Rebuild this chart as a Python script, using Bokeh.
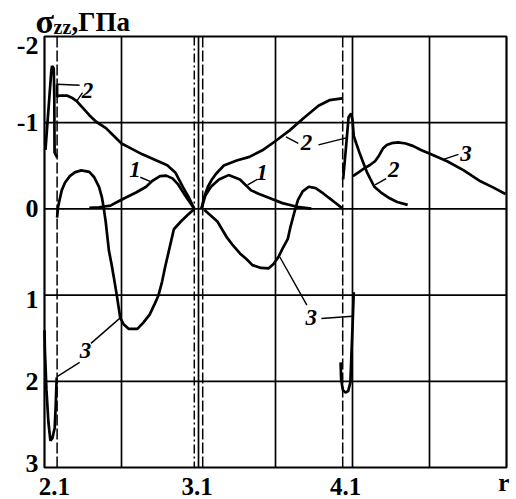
from bokeh.plotting import figure
from bokeh.models import Range1d, Label
from bokeh.embed import file_html
from bokeh.resources import INLINE

FONT = "Liberation Serif"

# ---- axes / grid -------------------------------------------------------
r_min, r_max = 2.0, 5.3
s_top, s_bottom = -2.0, 3.0
grid_r = [2.55, 3.1, 3.65, 4.2, 4.75]
grid_s = [-1, 0, 1, 2]
interface_r = [2.09, 3.07, 3.13, 4.13]
interface_dash = ["11 3", "9 3 2 3", "11 3", "11 3"]
y_tick_pos = [-1.9, -1, 0, 1.05, 2, 2.95]
y_tick_text = ["-2", "-1", "0", "1", "2", "3"]
x_tick_pos = [2.07, 3.09, 4.15]
x_tick_text = ["2.1", "3.1", "4.1"]
x_name_pos = 5.28
x_name = "r"

# ---- curve 1 -----------------------------------------------------------
c1_a_r = [2.320, 2.390, 2.471, 2.529, 2.578, 2.654, 2.726, 2.773, 2.825, 2.870,
          2.914, 2.951, 2.996, 3.033, 3.070]
c1_a_s = [-0.013, -0.019, -0.038, -0.089, -0.130, -0.190, -0.257, -0.329, -0.380,
          -0.386, -0.354, -0.291, -0.177, -0.089, 0.0]
c1_b_r = [3.121, 3.148, 3.189, 3.246, 3.315, 3.396, 3.476, 3.533, 3.602, 3.699,
          3.803, 3.906]
c1_b_s = [0.0, -0.152, -0.257, -0.342, -0.392, -0.342, -0.215, -0.173, -0.130,
          -0.067, -0.025, -0.004]

# ---- curve 2 -----------------------------------------------------------
c2_a_r = [2.007, 2.049, 2.054, 2.066, 2.070, 2.072, 2.090]
c2_a_s = [-0.685, -1.609, -1.658, -1.630, -1.304, -0.652, -0.598]
c2_b_r = [2.090, 2.090, 2.111, 2.160, 2.202, 2.230, 2.272, 2.320, 2.369, 2.439,
          2.494, 2.55, 2.624, 2.699, 2.788, 2.877, 2.936, 2.989, 3.033, 3.070]
c2_b_s = [-1.446, -1.304, -1.315, -1.315, -1.283, -1.25, -1.174, -1.087, -1.011,
          -0.937, -0.848, -0.759, -0.696, -0.633, -0.570, -0.506, -0.418, -0.253,
          -0.127, 0.0]
c2_c_r = [3.121, 3.141, 3.167, 3.196, 3.224, 3.281, 3.373, 3.464, 3.556, 3.648,
          3.751, 3.854, 3.957, 4.035, 4.126]
c2_c_s = [0.0, -0.139, -0.257, -0.342, -0.405, -0.503, -0.561, -0.604, -0.680,
          -0.785, -0.911, -1.058, -1.196, -1.261, -1.283]
c2_d_r = [4.133, 4.154, 4.172, 4.190, 4.2, 4.209, 4.227, 4.254, 4.275, 4.302,
          4.329, 4.356, 4.404, 4.458, 4.519, 4.594]
c2_d_s = [-0.342, -0.722, -1.065, -1.105, -1.033, -0.848, -0.759, -0.633, -0.544,
          -0.430, -0.342, -0.257, -0.190, -0.130, -0.080, -0.047]

# ---- curve 3 -----------------------------------------------------------
c3_a_r = [2.0, 2.003, 2.014, 2.028, 2.042, 2.056, 2.073, 2.080, 2.087]
c3_a_s = [1.407, 1.648, 2.1, 2.475, 2.688, 2.663, 2.538, 2.288, 1.956]
c3_b_r = [2.090, 2.097, 2.123, 2.146, 2.181, 2.216, 2.262, 2.320, 2.355, 2.390,
          2.411, 2.425, 2.437, 2.460, 2.480, 2.494, 2.517, 2.541, 2.565, 2.602,
          2.664, 2.706, 2.751, 2.788, 2.813, 2.840, 2.862, 2.892, 2.924, 2.974,
          3.024, 3.070]
c3_b_s = [0.101, -0.025, -0.215, -0.304, -0.380, -0.424, -0.447, -0.430, -0.367,
          -0.253, -0.127, 0.011, 0.146, 0.483, 0.652, 0.783, 1.008, 1.264, 1.337,
          1.392, 1.392, 1.319, 1.227, 1.099, 1.008, 0.843, 0.671, 0.461, 0.236,
          0.146, 0.067, 0.0]
c3_c_r = [3.141, 3.189, 3.235, 3.272, 3.304, 3.348, 3.396, 3.444, 3.485, 3.547,
          3.602, 3.636, 3.673, 3.704, 3.738, 3.758, 3.782, 3.810, 3.844, 3.888,
          3.937, 3.983, 4.030, 4.084, 4.127]
c3_c_s = [0.011, 0.079, 0.146, 0.247, 0.334, 0.427, 0.517, 0.584, 0.652, 0.685,
          0.689, 0.640, 0.551, 0.449, 0.348, 0.202, 0.056, -0.101, -0.203, -0.257,
          -0.241, -0.190, -0.130, -0.063, -0.006]
c3_d_r = [4.115, 4.119, 4.131, 4.150, 4.169, 4.185, 4.192, 4.2, 4.209]
c3_d_s = [1.780, 1.978, 2.1, 2.131, 2.113, 2.0125, 1.703, 1.374, 0.966]
c3_e_r = [4.203, 4.248, 4.281, 4.322, 4.361, 4.390, 4.417, 4.445, 4.479, 4.526,
          4.580, 4.635, 4.689, 4.757, 4.876, 4.995, 5.114, 5.207, 5.293]
c3_e_s = [-0.380, -0.430, -0.468, -0.506, -0.553, -0.620, -0.7, -0.741, -0.763,
          -0.772, -0.759, -0.728, -0.684, -0.637, -0.553, -0.447, -0.320, -0.247,
          -0.173]

# ---- leader lines and curve numbers -------------------------------------
lead_r0 = [2.090, 2.230, 2.684, 3.451, 3.725, 3.957, 2.090, 2.332, 3.681, 3.978, 4.850, 4.361]
lead_s0 = [-1.446, -1.25, -0.367, -0.278, -0.835, -0.743, 1.945, 1.560, 0.558, 1.271, -0.574, -0.278]
lead_r1 = [2.251, 2.272, 2.758, 3.519, 3.813, 4.163, 2.251, 2.541, 3.874, 4.2, 4.957, 4.440]
lead_s1 = [-1.435, -1.348, -0.316, -0.342, -0.759, -0.827, 1.780, 1.264, 1.117, 1.245, -0.633, -0.351]

num_r = [2.308, 2.647, 3.554, 3.871, 2.292, 3.906, 5.011, 4.495]
num_s = [-1.377, -0.456, -0.418, -0.772, 1.648, 1.264, -0.646, -0.456]
num_t = ["2", "1", "1", "2", "3", "3", "3", "2"]

curves = [
    (c1_a_r, c1_a_s), (c1_b_r, c1_b_s),
    (c2_a_r, c2_a_s), (c2_b_r, c2_b_s), (c2_c_r, c2_c_s), (c2_d_r, c2_d_s),
    (c3_a_r, c3_a_s), (c3_b_r, c3_b_s), (c3_c_r, c3_c_s), (c3_d_r, c3_d_s),
    (c3_e_r, c3_e_s),
]

# ---- layout: the scales cover the whole canvas so that the title and
# the tick texts around the box can be drawn with the same scales -------
W, H = 516, 499
box_left, box_top, box_w, box_h = 44, 36, 462, 431   # pixels of the boxed area
px_r = box_w / (r_max - r_min)
px_s = box_h / (s_bottom - s_top)
view_r0 = r_min - box_left / px_r
view_r1 = r_max + (W - box_left - box_w) / px_r
view_s0 = s_top - box_top / px_s
view_s1 = s_bottom + (H - box_top - box_h) / px_s

p = figure(width=W, height=H, output_backend="svg", toolbar_location=None,
           x_range=Range1d(view_r0, view_r1), y_range=Range1d(view_s1, view_s0),
           x_axis_location=None, y_axis_location=None, min_border=0)
p.background_fill_color = "white"
p.border_fill_color = "white"
p.outline_line_color = None
p.xgrid.visible = False
p.ygrid.visible = False

# grid
n_r, n_s = len(grid_r), len(grid_s)
p.segment(grid_r, [s_top] * n_r, grid_r, [s_bottom] * n_r, line_color="black", line_width=1.7)
p.segment([r_min] * n_s, grid_s, [r_max] * n_s, grid_s, line_color="black", line_width=1.7)

# interface lines
for r, d in zip(interface_r, interface_dash):
    p.segment([r], [s_top], [r], [s_bottom], line_color="black", line_width=1.5, line_dash=d)

# box
p.quad(left=[r_min], right=[r_max], top=[s_top], bottom=[s_bottom],
       fill_color=None, line_color="black", line_width=2.2)

for xs, ys in curves:
    p.line(xs, ys, line_color="black", line_width=2.7)

p.segment(lead_r0, lead_s0, lead_r1, lead_s1, line_color="black", line_width=1.4)

p.text(num_r, num_s, text=num_t, text_font={"value": FONT}, text_font_style="bold italic",
       text_font_size="23px", text_align="center", text_baseline="middle", text_color="black")

# tick texts
p.text([r_min] * len(y_tick_pos), y_tick_pos, text=y_tick_text, x_offset=-6,
       text_font={"value": FONT}, text_font_style="bold", text_font_size="26px",
       text_align="right", text_baseline="middle", text_color="black")
p.text(x_tick_pos, [s_bottom + 18.5 / px_s] * len(x_tick_pos), text=x_tick_text,
       text_font={"value": FONT}, text_font_style="bold", text_font_size="25px",
       text_align="center", text_baseline="middle", text_color="black")
p.text([x_name_pos], [s_bottom + 15 / px_s], text=[x_name],
       text_font={"value": FONT}, text_font_style="bold", text_font_size="25px",
       text_align="center", text_baseline="middle", text_color="black")

# title  σzz,ГПа (above the box)
p.add_layout(Label(x=r_min - 9 / px_r, y=s_top - 15.5 / px_s, text="σ", text_font=FONT,
                   text_font_style="bold", text_font_size="34px",
                   text_baseline="middle", text_color="black"))
p.add_layout(Label(x=r_min + 9 / px_r, y=s_top - 9.8 / px_s, text="zz", text_font=FONT,
                   text_font_style="bold", text_font_size="20px",
                   text_baseline="middle", text_color="black"))
p.add_layout(Label(x=r_min + 27 / px_r, y=s_top - 14.1 / px_s, text=",ГПа", text_font=FONT,
                   text_font_style="bold", text_font_size="27px",
                   text_baseline="middle", text_color="black"))

open("out.html", "w").write(file_html(p, INLINE))
